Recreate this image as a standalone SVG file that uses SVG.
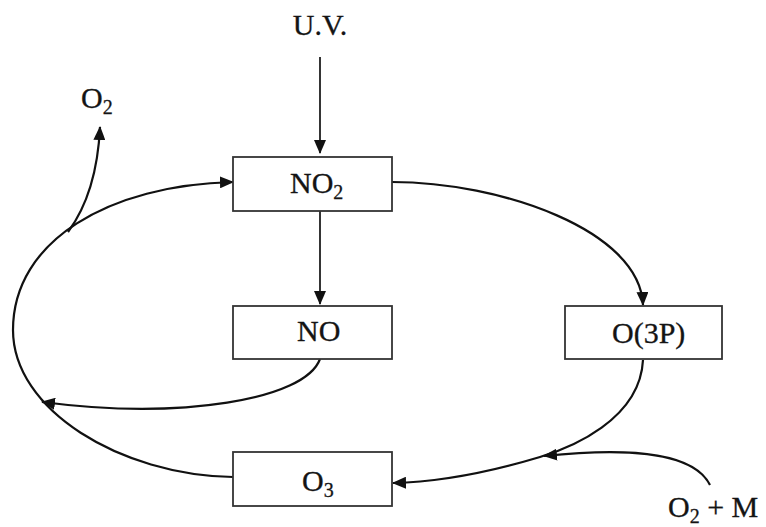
<svg xmlns="http://www.w3.org/2000/svg" width="766" height="527" viewBox="0 0 766 527">
  <defs>
    <marker id="arrow" markerUnits="userSpaceOnUse" markerWidth="14" markerHeight="12" refX="13" refY="6" orient="auto">
      <path d="M0,0 L14,6 L0,12 z" fill="#111"/>
    </marker>
    <style>
      .box { fill: #fff; stroke: #333; stroke-width: 1.8; }
      .lbl { font-family: "Liberation Serif", "Times New Roman", serif; font-size: 30px; fill: #141414; stroke: #141414; stroke-width: 0.3; }
      .sub { font-size: 20px; }
      .edge { fill: none; stroke: #111; stroke-width: 2.2; }
      .edge.thin { stroke-width: 1.7; }
    </style>
  </defs>
  <rect width="766" height="527" fill="#fff"/>

  <!-- free labels -->
  <text class="lbl" x="320" y="35" text-anchor="middle">U.V.</text>
  <text class="lbl" x="81" y="108">O<tspan class="sub" dy="6">2</tspan></text>
  <text class="lbl" x="668" y="517">O<tspan class="sub" dy="6">2</tspan><tspan dy="-6"> + M</tspan></text>

  <g id="connectors">
    <line class="edge thin" x1="320" y1="57" x2="320" y2="153" marker-end="url(#arrow)"/>
    <line class="edge thin" x1="320" y1="211" x2="320" y2="304" marker-end="url(#arrow)"/>
    <!-- O3 back round to NO2 -->
    <path class="edge" d="M233,477 C120,475 13,410 13,330 C13,240 110,185 233,182" marker-end="url(#arrow)"/>
    <!-- O2 released -->
    <path class="edge" d="M68,232 C88,205 98,170 100,127" marker-end="url(#arrow)"/>
    <!-- NO joins the loop -->
    <path class="edge" d="M320,359 C305,400 180,420 42,402" marker-end="url(#arrow)"/>
    <!-- NO2 to O(3P) -->
    <path class="edge" d="M392,182 C500,182 640,230 643,305" marker-end="url(#arrow)"/>
    <!-- O(3P) to O3 -->
    <path class="edge" d="M643,360 C640,420 570,448 540,457 C490,472 440,482 393,483" marker-end="url(#arrow)"/>
    <!-- O2 + M input -->
    <path class="edge" d="M710,485 C695,455 640,446 544,456" marker-end="url(#arrow)"/>
  </g>

  <g id="node-no2">
    <rect class="box" x="233" y="157" width="159" height="54"/>
    <text class="lbl" x="290" y="193">NO<tspan class="sub" dy="6">2</tspan></text>
  </g>
  <g id="node-no">
    <rect class="box" x="233" y="306" width="159" height="53"/>
    <text class="lbl" x="297" y="341">NO</text>
  </g>
  <g id="node-o3p">
    <rect class="box" x="565" y="306" width="157" height="53"/>
    <text class="lbl" x="612" y="343">O(3P)</text>
  </g>
  <g id="node-o3">
    <rect class="box" x="233" y="452" width="159" height="54"/>
    <text class="lbl" x="302" y="491">O<tspan class="sub" dy="6">3</tspan></text>
  </g>
</svg>
